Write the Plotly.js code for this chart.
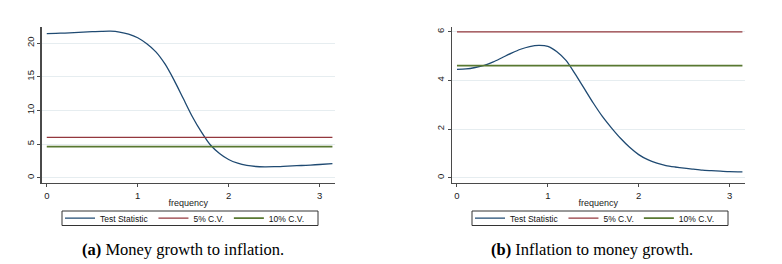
<!DOCTYPE html>
<html>
<head>
<meta charset="utf-8">
<script src="https://cdn.plot.ly/plotly-3.0.1.min.js"></script>
<style>html,body{margin:0;padding:0;background:#fff;}#chart{width:782px;height:264px;}</style>
</head>
<body>
<div id="chart"></div>
<script>
// ---- data ----
const freqA = [0, 0.1, 0.2, 0.3, 0.4, 0.5, 0.6, 0.7, 0.8, 0.9, 1.0, 1.1, 1.2, 1.3, 1.4, 1.5, 1.6, 1.7, 1.8, 1.9, 2.0, 2.1, 2.2, 2.3, 2.4, 2.5, 2.6, 2.7, 2.8, 2.9, 3.0, 3.1416];
const statA = [21.4, 21.45, 21.5, 21.57, 21.63, 21.7, 21.75, 21.77, 21.65, 21.35, 20.8, 19.9, 18.7, 16.9, 14.5, 11.8, 9.1, 6.8, 4.85, 3.6, 2.7, 2.15, 1.82, 1.66, 1.62, 1.64, 1.69, 1.75, 1.81, 1.88, 1.96, 2.08];

const freqB = [0, 0.1, 0.2, 0.3, 0.4, 0.5, 0.6, 0.7, 0.8, 0.9, 1.0, 1.1, 1.2, 1.3, 1.4, 1.5, 1.6, 1.7, 1.8, 1.9, 2.0, 2.1, 2.2, 2.3, 2.4, 2.5, 2.6, 2.7, 2.8, 2.9, 3.0, 3.1416];
const statB = [4.45, 4.47, 4.53, 4.62, 4.76, 4.94, 5.12, 5.28, 5.39, 5.44, 5.4, 5.18, 4.82, 4.27, 3.67, 3.07, 2.52, 2.05, 1.62, 1.25, 0.95, 0.74, 0.6, 0.5, 0.44, 0.39, 0.35, 0.31, 0.29, 0.27, 0.25, 0.24];

const cv5 = 5.99;
const cv10 = 4.61;

const seriesNames = ["Test Statistic", "5% C.V.", "10% C.V."];
const captions = ["<b>(a)</b> Money growth to inflation.", "<b>(b)</b> Inflation to money growth."];
const xTicks = [0, 1, 2, 3];
const yTicksA = [0, 5, 10, 15, 20];
const yTicksB = [0, 2, 4, 6];
const xTitle = "frequency";

// ---- styling ----
const navy = "#1f4a72", maroon = "#93373d", green = "#587831";
const W = 782, H = 264;
const px = v => v / W;
const py = v => 1 - v / H;

function panelTraces(freq, stat, xa, ya, leg) {
  const ends = [freq[0], freq[freq.length - 1]];
  return [
    {x: freq, y: stat, type: "scatter", mode: "lines", name: seriesNames[0], xaxis: xa, yaxis: ya, legend: leg,
     line: {color: navy, width: 1.3, shape: "spline", smoothing: 0.7}},
    {x: ends, y: [cv5, cv5], type: "scatter", mode: "lines", name: seriesNames[1], xaxis: xa, yaxis: ya, legend: leg,
     line: {color: maroon, width: 1.2}},
    {x: ends, y: [cv10, cv10], type: "scatter", mode: "lines", name: seriesNames[2], xaxis: xa, yaxis: ya, legend: leg,
     line: {color: green, width: 1.8}}
  ];
}

const data = [].concat(
  panelTraces(freqA, statA, "x", "y", "legend"),
  panelTraces(freqB, statB, "x2", "y2", "legend2")
);

const tickFont = {family: "Liberation Sans, Arial, sans-serif", size: 9.5, color: "#222"};

function xAxis(dom) {
  return {
    domain: dom, range: [-0.058, 3.17], tickvals: xTicks, ticktext: xTicks.map(String),
    showline: true, linecolor: "#4a4a4a", linewidth: 1.2, ticks: "outside", ticklen: 3, tickcolor: "#4a4a4a", tickwidth: 1,
    showgrid: false, zeroline: false, tickfont: tickFont,
    title: {text: xTitle, font: {family: "Liberation Sans, Arial, sans-serif", size: 9, color: "#222"}, standoff: 0},
    fixedrange: true
  };
}
function yAxis(range, ticks, anchor) {
  return {
    domain: [py(183), py(26.5)], range: range, tickvals: ticks, ticktext: ticks.map(String),
    showline: true, linecolor: "#4a4a4a", linewidth: 1.2, ticks: "outside", ticklen: 3, tickcolor: "#4a4a4a", tickwidth: 1,
    showgrid: true, gridcolor: "#e6edf0", gridwidth: 1, zeroline: false, tickangle: -90, tickfont: tickFont,
    anchor: anchor, fixedrange: true
  };
}

const legendFont = {family: "Liberation Sans, Arial, sans-serif", size: 8.5, color: "#111"};
function legendAt(xLeft) {
  return {orientation: "h", x: px(xLeft), xanchor: "left", y: py(218.2), yanchor: "middle",
          bgcolor: "rgba(0,0,0,0)", borderwidth: 0, font: legendFont, itemwidth: 30, tracegroupgap: 0};
}

const layout = {
  width: W, height: H,
  margin: {l: 0, r: 0, t: 0, b: 0},
  paper_bgcolor: "#fff", plot_bgcolor: "#fff",
  showlegend: true,
  xaxis: Object.assign(xAxis([px(41.5), px(335)]), {anchor: "y"}),
  yaxis: yAxis([-0.79, 22.47], yTicksA, "x"),
  xaxis2: Object.assign(xAxis([px(451.7), px(745)]), {anchor: "y2"}),
  yaxis2: yAxis([-0.218, 6.215], yTicksB, "x2"),
  legend: legendAt(60),
  legend2: legendAt(470),
  shapes: [
    {type: "rect", xref: "paper", yref: "paper", x0: px(62), x1: px(318), y0: py(225.5), y1: py(211), line: {color: "#333", width: 1}},
    {type: "rect", xref: "paper", yref: "paper", x0: px(472), x1: px(728), y0: py(225.5), y1: py(211), line: {color: "#333", width: 1}}
  ],
  annotations: [
    {text: captions[0], xref: "paper", yref: "paper", x: px(182.5), y: py(249), xanchor: "center", yanchor: "middle",
     showarrow: false, font: {family: "Liberation Serif, Times New Roman, serif", size: 16.5, color: "#000"}},
    {text: captions[1], xref: "paper", yref: "paper", x: px(592), y: py(249), xanchor: "center", yanchor: "middle",
     showarrow: false, font: {family: "Liberation Serif, Times New Roman, serif", size: 16.5, color: "#000"}}
  ]
};

Plotly.newPlot("chart", data, layout, {displayModeBar: false, staticPlot: true});
</script>
</body>
</html>
